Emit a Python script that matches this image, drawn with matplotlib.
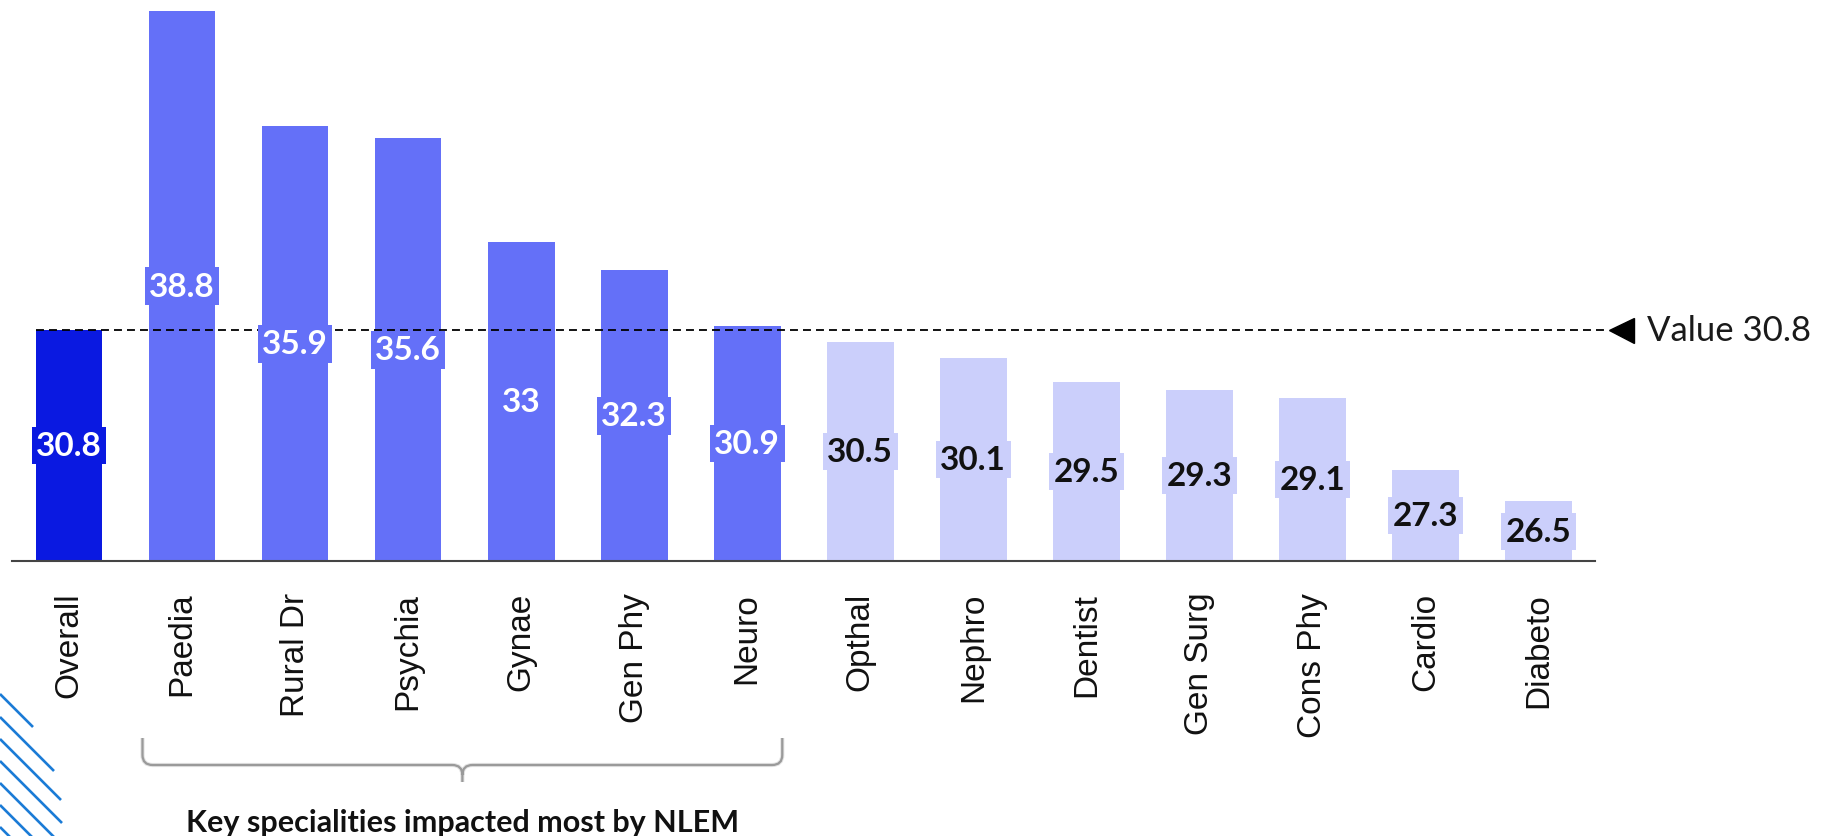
import matplotlib
matplotlib.use("Agg")
import matplotlib.pyplot as plt
from matplotlib.path import Path
from matplotlib.patches import PathPatch
from matplotlib.lines import Line2D
import matplotlib.transforms as mtransforms

# ---------------- data ----------------
categories = ["Overall", "Paedia", "Rural Dr", "Psychia", "Gynae", "Gen Phy", "Neuro",
              "Opthal", "Nephro", "Dentist", "Gen Surg", "Cons Phy", "Cardio", "Diabeto"]
values = [30.8, 38.8, 35.9, 35.6, 33.0, 32.3, 30.9, 30.5, 30.1, 29.5, 29.3, 29.1, 27.3, 26.5]
value_labels = ["30.8", "38.8", "35.9", "35.6", "33", "32.3", "30.9",
                "30.5", "30.1", "29.5", "29.3", "29.1", "27.3", "26.5"]
groups = ["overall"] + ["key"] * 6 + ["other"] * 7
reference_value = 30.8
reference_label = "Value 30.8"
bracket_text = "Key specialities impacted most by NLEM"
axis_floor = 25.0
axis_top = 39.096

# ---------------- style ----------------
colors = {"overall": "#0A19E1", "key": "#6470F8", "other": "#CBCFFB"}
text_colors = {"overall": "white", "key": "white", "other": "#111111"}

W, H = 1833, 837
fig = plt.figure(figsize=(W / 100, H / 100), dpi=100)
fig.patch.set_facecolor("white")

ax_left_px, ax_right_px, ax_bottom_px = 12.5, 1595.0, 562.3
ax = fig.add_axes([ax_left_px / W, 1 - ax_bottom_px / H,
                   (ax_right_px - ax_left_px) / W, ax_bottom_px / H])

x = list(range(len(categories)))
bar_w = 0.59
ax.bar(x, [v - axis_floor for v in values], bottom=axis_floor, width=bar_w,
       color=[colors[g] for g in groups], zorder=2)

ax.set_xlim(-0.5, len(categories) - 0.5)
ax.set_ylim(axis_floor, axis_top)

# value labels centred in bars
for xi, v, lab, g in zip(x, values, value_labels, groups):
    ax.text(xi, (axis_floor + v) / 2, lab, ha="center", va="center",
            fontsize=24, fontfamily="Lato", fontweight="bold",
            color=text_colors[g], zorder=5,
            bbox=dict(boxstyle="square,pad=0.13", fc=colors[g], ec="none"))

# reference dashed line + arrow + label
trans_ay = mtransforms.blended_transform_factory(ax.transAxes, ax.transData)
x_start = (x[0] - bar_w / 2 + 0.5) / len(categories)
ax.plot([x_start, 1.0082], [reference_value, reference_value], transform=trans_ay,
        ls=(0, (4.4, 2.8)), color="black", lw=1.3, clip_on=False, zorder=4)
ax.plot([1.0164], [reference_value], transform=trans_ay, marker="<", ms=18,
        color="black", clip_on=False, zorder=4)
ax.text(1.0329, reference_value, reference_label, transform=trans_ay,
        ha="left", va="center", fontsize=25, fontfamily="Lato", color="#1a1a1a")

# axes styling
ax.set_xticks(x)
ax.set_xticklabels(categories, rotation=90, fontsize=24, fontfamily="Liberation Sans",
                   color="#111111")
ax.tick_params(axis="x", length=0, pad=22)
ax.set_yticks([])
for s in ["top", "right", "left"]:
    ax.spines[s].set_visible(False)
ax.spines["bottom"].set_color("#444444")
ax.spines["bottom"].set_linewidth(1.5)
ax.spines["bottom"].set_zorder(6)

# bracket under key specialities
trans_df = mtransforms.blended_transform_factory(ax.transData, fig.transFigure)
xl, xr = 0.65, 6.31
xc = (xl + xr) / 2
ytop, yh, ytip = 1 - 739 / H, 1 - 766 / H, 1 - 783 / H
rx, ry = 0.09, 10 / H
verts = [(xl, ytop), (xl, yh + ry), (xl, yh), (xl + rx, yh),
         (xc - rx, yh), (xc, yh), (xc, yh - ry), (xc, ytip),
         (xc, yh - ry), (xc, yh), (xc + rx, yh),
         (xr - rx, yh), (xr, yh), (xr, yh + ry), (xr, ytop)]
codes = [Path.MOVETO, Path.LINETO, Path.CURVE3, Path.CURVE3,
         Path.LINETO, Path.CURVE3, Path.CURVE3, Path.LINETO,
         Path.MOVETO, Path.CURVE3, Path.CURVE3,
         Path.LINETO, Path.CURVE3, Path.CURVE3, Path.LINETO]
fig.add_artist(PathPatch(Path(verts, codes), transform=trans_df, fc="none",
                         ec="#e3e3e3", lw=3.0, clip_on=False))
fig.add_artist(PathPatch(Path(verts, codes), transform=trans_df, fc="none",
                         ec="#9a9a9a", lw=1.6, clip_on=False))
fig.text(xc, 1 - 823 / H, bracket_text, transform=trans_df, ha="center", va="center",
         fontsize=22, fontfamily="Lato", fontweight="bold", color="#111111")

# decorative diagonal stripes (bottom-left corner)
stripe_starts = [695, 718, 740, 762, 784, 806, 828]
stripe_ends = [33, 54, 61, 62, 60, 40, 20]
for y0, x1 in zip(stripe_starts, stripe_ends):
    fig.add_artist(Line2D([0, x1 / W], [1 - y0 / H, 1 - (y0 + x1) / H],
                          transform=fig.transFigure, color="#1B7BD6", lw=1.9,
                          solid_capstyle="butt"))

fig.savefig("out.png", dpi=100, facecolor="white")
